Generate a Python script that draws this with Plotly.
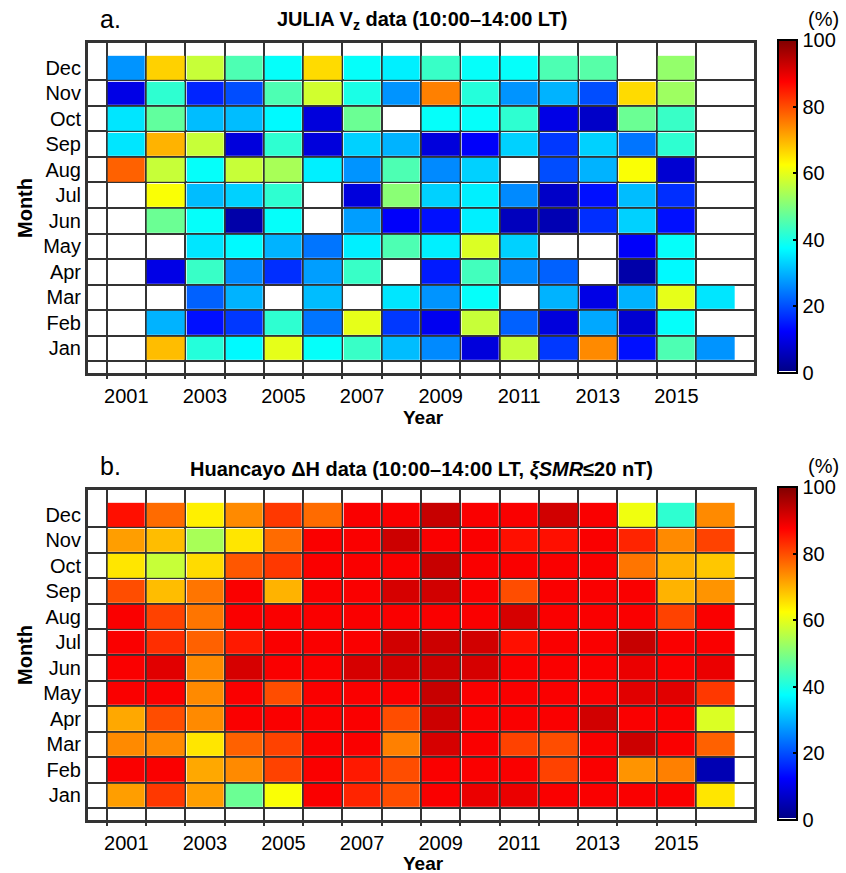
import numpy as np
import plotly.graph_objects as go

YEARS = list(range(2001, 2017))
MONTHS = ["Jan", "Feb", "Mar", "Apr", "May", "Jun", "Jul", "Aug", "Sep", "Oct", "Nov", "Dec"]
XTICKS = [2001, 2003, 2005, 2007, 2009, 2011, 2013, 2015]
CBAR_TICKS = [0, 20, 40, 60, 80, 100]
N = None

# Panel a: JULIA Vz data occurrence (%), years 2001..2016 (None = no data)
julia_jan = [N, 69, 41, 37, 60, 38, 43, 31, 26, 9, 57, 18, 74, 14, 45, 27]
julia_feb = [N, 30, 14, 18, 42, 24, 60, 18, 11, 57, 22, 9, 29, 8, 38, N]
julia_mar = [N, N, 22, 30, N, 31, N, 35, 27, 38, N, 30, 10, 30, 60, 35]
julia_apr = [N, 10, 43, 26, 17, 28, 43, N, 15, 44, 26, 22, N, 4, 37, N]
julia_may = [N, N, 35, 37, 30, 24, 36, 45, 36, 59, 33, N, N, 12, 38, N]
julia_jun = [N, 48, 38, 4, 38, N, 28, 12, 14, 36, 6, 5, 17, 33, 14, N]
julia_jul = [N, 62, 31, 33, 42, N, 9, 51, 33, 36, 26, 7, 14, 31, 17, N]
julia_aug = [78, 57, 38, 57, 54, 36, 27, 45, 26, 33, N, 20, 30, 62, 8, N]
julia_sep = [35, 70, 57, 9, 42, 9, 33, 30, 9, 12, 33, 18, 33, 24, 42, N]
julia_oct = [35, 47, 31, 31, 37, 9, 48, N, 38, 38, 42, 10, 7, 48, 43, N]
julia_nov = [10, 42, 16, 20, 45, 58, 40, 27, 75, 41, 27, 30, 20, 66, 53, N]
julia_dec = [27, 67, 57, 45, 38, 66, 38, 36, 43, 38, 38, 45, 46, N, 52, N]

# Panel b: Huancayo dH data occurrence (%)
huan_jan = [72, 82, 72, 48, 62, 88, 84, 80, 88, 89.5, 89.5, 88, 88, 88, 88, 65]
huan_feb = [88, 88, 71, 74, 81, 88, 85, 80, 88, 88, 88, 81, 88, 73, 75, 5]
huan_mar = [74, 74, 65, 78, 81, 88, 88, 75, 91.5, 88, 81, 80, 88, 92.5, 88, 78]
huan_apr = [71, 80, 74, 88, 88, 88, 88, 80, 92.5, 88, 88, 88, 92, 88, 88, 59]
huan_may = [88, 88, 74, 88, 80, 88, 88, 88, 93, 88, 88, 88, 88, 90.5, 90.5, 82]
huan_jun = [88, 90.5, 74, 91.5, 88, 88, 91.5, 92, 92.5, 91.5, 88, 88, 88, 89.5, 88, 89.5]
huan_jul = [88, 83, 78, 85, 88, 88, 88, 92, 92.5, 92, 86, 88, 88, 93, 88, 88]
huan_aug = [88, 81, 76, 88, 88, 88, 88, 88, 88, 88, 91.5, 88, 88, 88, 81, 88]
huan_sep = [80, 69, 76, 88, 70, 88, 88, 91.5, 92, 88, 80, 88, 88, 88, 70, 73]
huan_oct = [65, 57, 66, 79, 82, 88, 88, 88, 93, 88, 88, 88, 88, 76, 70, 68]
huan_nov = [72, 69, 54, 65, 77, 88, 88, 92.5, 88, 88, 86, 86, 88, 84, 74, 81]
huan_dec = [86, 77, 64, 74, 82, 77, 88, 88, 93, 88, 88, 92, 88, 61, 42, 74]

julia = [julia_jan, julia_feb, julia_mar, julia_apr, julia_may, julia_jun,
         julia_jul, julia_aug, julia_sep, julia_oct, julia_nov, julia_dec]
huan = [huan_jan, huan_feb, huan_mar, huan_apr, huan_may, huan_jun,
        huan_jul, huan_aug, huan_sep, huan_oct, huan_nov, huan_dec]


def to_arr(rows):
    return np.array([[np.nan if v is None else v for v in r] for r in rows], dtype=float)


JET = [[0.0, "rgb(255,255,255)"], [0.006, "rgb(255,255,255)"],
       [0.006, "rgb(0,0,135)"], [0.125, "rgb(0,0,255)"],
       [0.375, "rgb(0,255,255)"], [0.625, "rgb(255,255,0)"],
       [0.875, "rgb(255,0,0)"], [1.0, "rgb(128,0,0)"]]

FONT = "Liberation Sans, Arial, Helvetica, sans-serif"
GRID = "#333333"
W, H = 846, 873

month_idx = list(range(1, len(MONTHS) + 1))
x_edges = [YEARS[0] - 1] + [y - 0.5 for y in YEARS] + [YEARS[-1] + 1]
y_edges = [0] + [m - 0.5 for m in month_idx] + [month_idx[-1] + 1]
bg_z = np.zeros((len(y_edges) - 1, len(x_edges) - 1))

fig = go.Figure()

panels = [
    (julia, "x", "y", 42, 374, 40, 373),
    (huan, "x2", "y2", 489, 821, 487, 820),
]

for data, xa, ya, top, bot, cbt, cbb in panels:
    fig.add_trace(go.Heatmap(
        x=x_edges, y=y_edges, z=bg_z, xaxis=xa, yaxis=ya,
        colorscale=[[0, "white"], [1, "white"]], showscale=False,
        xgap=2, ygap=2, hoverinfo="skip"))
    fig.add_trace(go.Heatmap(
        x=YEARS, y=month_idx, z=to_arr(data), xaxis=xa, yaxis=ya,
        colorscale=JET, zmin=0, zmax=100, xgap=2, ygap=2,
        colorbar=dict(
            x=778 / W, xanchor="left", xpad=0, ypad=0,
            y=1 - cbt / H, yanchor="top",
            len=cbb - cbt, lenmode="pixels",
            thickness=19, thicknessmode="pixels",
            outlinewidth=2, outlinecolor="black",
            tickvals=CBAR_TICKS, ticks="inside", ticklen=5, tickwidth=2,
            tickcolor="black", tickfont=dict(size=20, color="black", family=FONT)),
    ))

ax_common = dict(
    showline=True, mirror=True, linewidth=2, linecolor=GRID,
    showgrid=False, zeroline=False, fixedrange=True,
)
xdom = [87 / W, 755 / W]
minor_x = dict(tickvals=[y - 0.5 for y in YEARS], ticks="outside", ticklen=3,
               tickwidth=2, tickcolor=GRID, showgrid=False)
for i, (data, xa, ya, top, bot, cbt, cbb) in enumerate(panels):
    sx = "" if i == 0 else "2"
    fig.update_layout(**{
        f"xaxis{sx}": dict(ax_common, domain=xdom, range=[x_edges[0], x_edges[-1]],
                           anchor=ya, tickvals=XTICKS, ticktext=[str(v) for v in XTICKS],
                           ticks="outside", ticklen=3, tickcolor="rgba(0,0,0,0)",
                           tickfont=dict(size=20, color="black", family=FONT),
                           minor=minor_x),
        f"yaxis{sx}": dict(ax_common, domain=[1 - bot / H, 1 - top / H],
                           range=[y_edges[0], y_edges[-1]], anchor=xa,
                           tickvals=month_idx, ticktext=MONTHS, ticks="",
                           tickfont=dict(size=20, color="black", family=FONT)),
    })

ann = []
def A(text, x, y, size, **kw):
    ann.append(dict(text=text, x=x / W, y=1 - y / H, xref="paper", yref="paper",
                    xanchor="center", yanchor="middle",
                    showarrow=False, font=dict(size=size, color="black", family=FONT), **kw))

A("a.", 110, 19, 25)
A("<b>JULIA V<sub>z</sub> data (10:00–14:00 LT)</b>", 422, 20, 20)
A("(%)", 823, 19, 20)
A("<b>Month</b>", 25, 208, 20, textangle=-90)
A("<b>Year</b>", 424, 417, 19)

A("b.", 110, 466, 25)
A("<b>Huancayo ΔH data (10:00–14:00 LT, <i>ξSMR</i>≤20 nT)</b>", 421, 469, 20)
A("(%)", 823, 466, 20)
A("<b>Month</b>", 25, 655, 20, textangle=-90)
A("<b>Year</b>", 424, 863, 19)

fig.update_layout(
    width=W, height=H, margin=dict(l=0, r=0, t=0, b=0),
    paper_bgcolor="white", plot_bgcolor=GRID,
    font=dict(family=FONT, color="black"),
    annotations=ann, showlegend=False,
)

fig.write_html("out.html")
